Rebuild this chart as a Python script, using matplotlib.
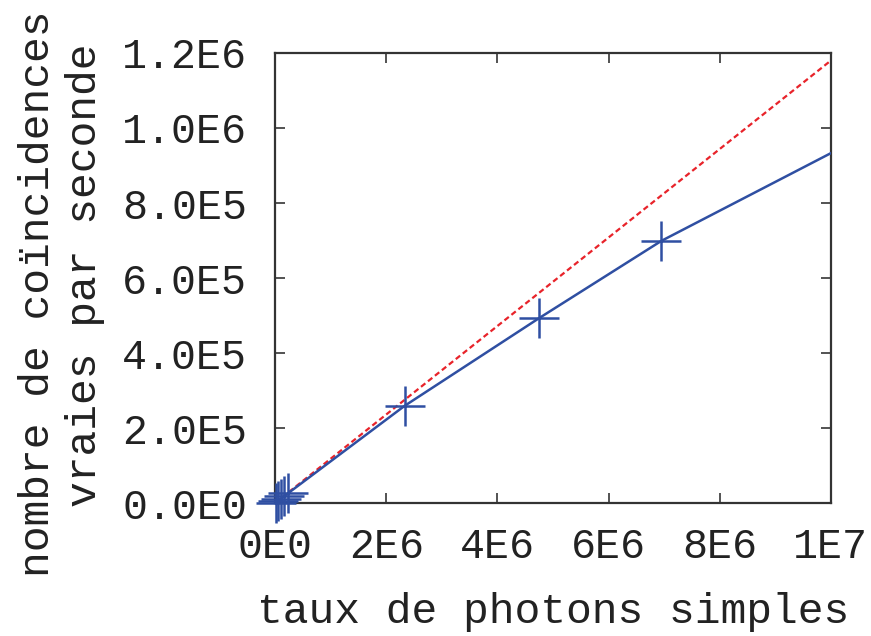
import matplotlib
matplotlib.use("Agg")
import matplotlib.pyplot as plt

# measured points (singles rate, true coincidences per second)
rate_pts = [1e4, 6e4, 1.1e5, 1.7e5, 2.3e5, 2.33e6, 4.75e6, 6.95e6]
coinc_pts = [1e3, 6e3, 1.2e4, 1.9e4, 2.6e4, 2.59e5, 4.93e5, 6.99e5]

# model curve (passes through the points)
fit_x = [0, 2.33e6, 4.75e6, 6.95e6, 1e7]
fit_y = [0, 2.59e5, 4.93e5, 6.99e5, 9.33e5]

# ideal (no loss) line
ideal_x = [0, 1e7]
ideal_y = [0, 1.18e6]

xticks = [0, 2e6, 4e6, 6e6, 8e6, 1e7]
xtick_labels = ["0E0", "2E6", "4E6", "6E6", "8E6", "1E7"]
yticks = [0, 2e5, 4e5, 6e5, 8e5, 1e6, 1.2e6]
ytick_labels = ["0.0E0", "2.0E5", "4.0E5", "6.0E5", "8.0E5", "1.0E6", "1.2E6"]

plt.rcParams['font.family'] = ['Liberation Mono', 'DejaVu Sans Mono']

W, H = 871, 636
fig = plt.figure(figsize=(W / 100, H / 100), dpi=100)
ax = fig.add_axes([0.3157, 0.209, 0.954 - 0.3157, 0.9167 - 0.209])

blue = "#2f4fa2"
red = "#e8232a"
txt = "#222222"

ax.plot(ideal_x, ideal_y, color=red, lw=1.6, ls=(0, (2.5, 1.5)), zorder=2)
ax.plot(fit_x, fit_y, color=blue, lw=1.8, zorder=3)
ax.plot(rate_pts, coinc_pts, ls="none", marker="+", ms=29, mew=1.8,
        color=blue, zorder=4, clip_on=False)

ax.set_xlim(0, 1e7)
ax.set_ylim(0, 1.2e6)
ax.set_xticks(xticks)
ax.set_xticklabels(xtick_labels)
ax.set_yticks(yticks)
ax.set_yticklabels(ytick_labels)

for s in ax.spines.values():
    s.set_linewidth(1.6)
    s.set_color("#333333")

ax.tick_params(direction="in", length=7, width=1.3, color="#444444",
               top=True, right=True, labelsize=30, labelcolor=txt)
ax.tick_params(axis="x", pad=17)
ax.tick_params(axis="y", pad=20)

# axis titles placed by hand (gnuplot centres the two y lines differently)
fig.text(553 / W, 1 - 612 / H, "taux de photons simples", fontsize=31,
         color=txt, ha="center", va="center")
fig.text(38 / W, 1 - 294 / H, "nombre de coïncidences", fontsize=31,
         color=txt, ha="center", va="center", rotation=90)
fig.text(85 / W, 1 - 275 / H, "vraies par seconde", fontsize=31,
         color=txt, ha="center", va="center", rotation=90)

fig.savefig("out.png", dpi=100)
